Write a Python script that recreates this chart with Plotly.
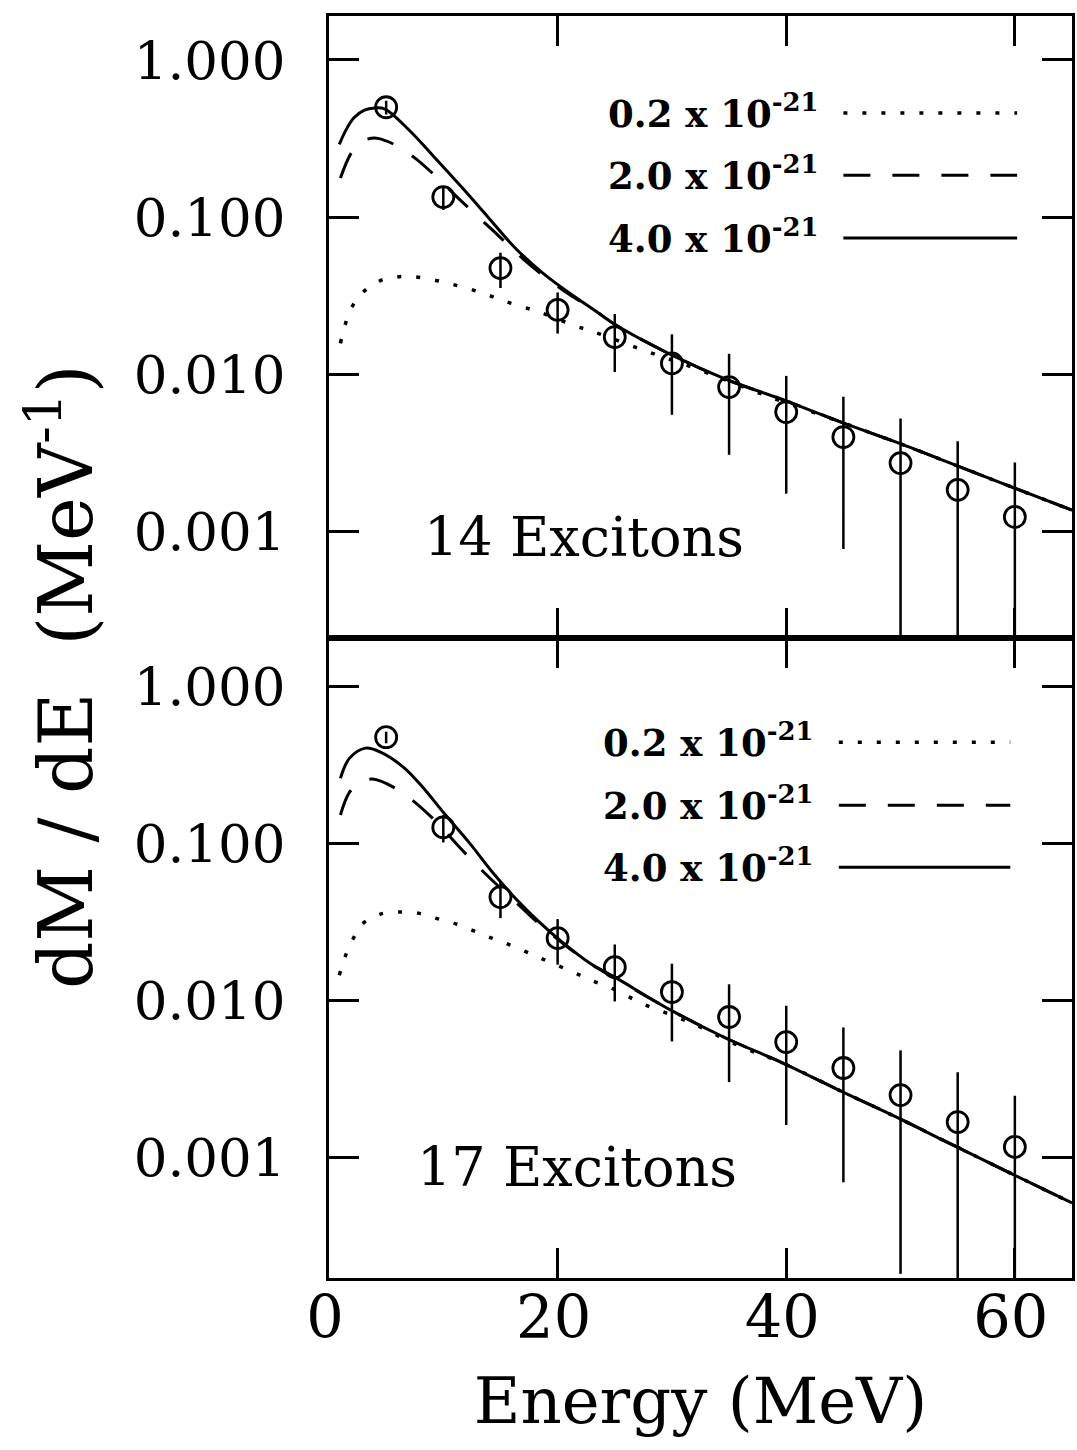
import plotly.graph_objects as go
from plotly.subplots import make_subplots

# ---- measured spectra (points every 5 MeV) ----
energy_pts = [5, 10, 15, 20, 25, 30, 35, 40, 45, 50, 55, 60]

data14 = [0.50, 0.134, 0.0473, 0.0256, 0.0172, 0.0117, 0.00826, 0.00573,
          0.00397, 0.00271, 0.00183, 0.00123]
err14 = [0.05, 0.023, 0.012, 0.0075, 0.0069, 0.0062, 0.0052, 0.0040,
         0.0032, 0.0025, 0.0019, 0.0015]

data17 = [0.473, 0.126, 0.0453, 0.0248, 0.0162, 0.01125, 0.0078, 0.0054,
          0.00369, 0.00248, 0.00167, 0.00116]
err17 = [0.04, 0.025, 0.012, 0.008, 0.0064, 0.0058, 0.0048, 0.0038,
         0.0030, 0.0023, 0.0018, 0.0013]

# ---- model curves, 14 excitons ----
e14_solid = [0.9, 1.5, 2.2, 3.1, 4.0, 4.9, 7.0, 9.2, 11.6, 13.9, 16.2, 18.6,
             20.9, 23.2, 25.1, 30.0, 34.9, 39.8, 44.8, 49.8, 54.8, 59.7, 65.0]
m14_solid = [0.29, 0.36, 0.43, 0.48, 0.495, 0.487, 0.358, 0.241, 0.155, 0.100,
             0.0644, 0.0446, 0.0333, 0.0256, 0.0205, 0.0132, 0.00916, 0.00683,
             0.00494, 0.00364, 0.00263, 0.00191, 0.00136]

e14_dash = [1.0, 2.0, 3.0, 4.0, 5.0, 6.0, 7.5, 9.4, 11.3, 13.0, 15.0, 17.0,
            19.0, 21.0, 23.0, 25.1, 30.0, 34.9, 39.8, 44.8, 49.8, 54.8, 59.7, 65.0]
m14_dash = [0.177, 0.259, 0.305, 0.318, 0.305, 0.282, 0.238, 0.180, 0.132,
            0.101, 0.074, 0.054, 0.041, 0.0322, 0.0262, 0.0205, 0.0132, 0.00916,
            0.00683, 0.00494, 0.00364, 0.00263, 0.00191, 0.00136]

e14_dot = [1.0, 1.4, 2.0, 3.0, 4.4, 5.9, 7.5, 9.2, 10.7, 12.3, 13.9, 15.3,
           17.0, 18.6, 21.6, 23.2, 27.5, 32.0, 38.1, 44.8, 49.8, 54.8, 59.7, 65.0]
m14_dot = [0.0157, 0.0205, 0.0267, 0.0333, 0.0391, 0.0415, 0.0415, 0.0397,
           0.0374, 0.0348, 0.0319, 0.0292, 0.0267, 0.0245, 0.0202, 0.0185,
           0.0142, 0.0109, 0.00735, 0.00494, 0.00364, 0.00263, 0.00191, 0.00136]

# ---- model curves, 17 excitons ----
e17_solid = [1.0, 1.8, 3.2, 4.5, 6.5, 8.2, 10.2, 12.3, 14.3, 16.3, 18.4, 20.4,
             22.8, 25.0, 29.9, 34.7, 39.7, 44.6, 49.6, 54.7, 59.6, 65.0]
m17_solid = [0.259, 0.348, 0.403, 0.380, 0.305, 0.227, 0.151, 0.100, 0.0653,
             0.0446, 0.0314, 0.0234, 0.0172, 0.0140, 0.00863, 0.00573, 0.00397,
             0.00267, 0.00180, 0.00118, 0.00079, 0.00051]

e17_dash = [1.0, 1.8, 2.8, 3.8, 5.8, 7.6, 9.5, 11.4, 13.2, 14.9, 16.9, 18.7,
            21.0, 23.0, 25.0, 29.9, 34.7, 39.7, 44.6, 49.6, 54.7, 59.6, 65.0]
m17_dash = [0.151, 0.211, 0.245, 0.256, 0.224, 0.180, 0.134, 0.0944, 0.069,
            0.0525, 0.0385, 0.0292, 0.0214, 0.0168, 0.0138, 0.00863, 0.00573,
            0.00397, 0.00267, 0.00180, 0.00118, 0.00079, 0.00051]

e17_dot = [0.9, 1.4, 2.1, 3.0, 4.5, 6.2, 7.8, 9.3, 10.9, 12.5, 14.0, 15.4,
           17.1, 18.5, 21.5, 22.9, 24.5, 25.9, 27.3, 31.7, 36.1, 39.7, 44.6,
           49.6, 54.7, 59.6, 65.0]
m17_dot = [0.0144, 0.0188, 0.0245, 0.0309, 0.0353, 0.0364, 0.0358, 0.0333,
           0.0309, 0.0279, 0.0252, 0.0231, 0.0205, 0.0185, 0.0149, 0.0134,
           0.0121, 0.0108, 0.00957, 0.00714, 0.00502, 0.00397, 0.00267,
           0.00180, 0.00118, 0.00079, 0.00051]

legend_labels = ["0.2 x 10<sup>-21</sup>", "2.0 x 10<sup>-21</sup>",
                 "4.0 x 10<sup>-21</sup>"]
panel_labels = ["14 Excitons", "17 Excitons"]

y_tickvals = [0.001, 0.01, 0.1, 1.0]
y_ticktext = ["0.001", "0.010", "0.100", "1.000"]
x_tickvals = [0, 20, 40, 60]
x_ticktext = ["0", "20", "40", "60"]

BLACK = "black"
DOT = "4px,15px"
DASH = "27px,22px"

fig = make_subplots(rows=2, cols=1, shared_xaxes=True, vertical_spacing=0,
                    row_heights=[0.493, 0.507])

panels = [
    (1, e14_dot, m14_dot, e14_dash, m14_dash, e14_solid, m14_solid, data14, err14),
    (2, e17_dot, m17_dot, e17_dash, m17_dash, e17_solid, m17_solid, data17, err17),
]

for row, ed, md, eh, mh, es, ms, dat, err in panels:
    fig.add_trace(go.Scatter(x=ed, y=md, mode="lines", line_shape="spline",
                             line=dict(color=BLACK, width=3.5, dash=DOT),
                             showlegend=False, hoverinfo="skip"), row=row, col=1)
    fig.add_trace(go.Scatter(x=eh, y=mh, mode="lines", line_shape="spline",
                             line=dict(color=BLACK, width=3, dash=DASH),
                             showlegend=False, hoverinfo="skip"), row=row, col=1)
    fig.add_trace(go.Scatter(x=es, y=ms, mode="lines", line_shape="spline",
                             line=dict(color=BLACK, width=3),
                             showlegend=False, hoverinfo="skip"), row=row, col=1)
    fig.add_trace(go.Scatter(
        x=energy_pts, y=dat, mode="markers",
        marker=dict(symbol="circle-open", size=21, color=BLACK,
                    line=dict(width=2.8, color=BLACK)),
        error_y=dict(type="data", array=err, visible=True, color=BLACK,
                     thickness=2.5, width=0),
        showlegend=False), row=row, col=1)

axis_common = dict(showline=True, linewidth=3, linecolor=BLACK, mirror="ticks",
                   ticks="inside", ticklen=30, tickwidth=3, tickcolor=BLACK,
                   showgrid=False, zeroline=False)

fig.update_xaxes(range=[0, 65], tickvals=x_tickvals, ticktext=x_ticktext,
                 **axis_common)
fig.update_xaxes(showticklabels=False, row=1, col=1)
fig.update_xaxes(showticklabels=True, row=2, col=1,
                 tickfont=dict(family="DejaVu Serif", size=59, color=BLACK),
                 ticklabelstandoff=-14, ticklabelshift=-4,
                 title=dict(text="Energy (MeV)", standoff=28,
                            font=dict(family="DejaVu Serif", size=64, color=BLACK)))

fig.update_yaxes(type="log", tickvals=y_tickvals, ticktext=y_ticktext,
                 tickfont=dict(family="DejaVu Serif", size=53, color=BLACK),
                 ticklabelstandoff=30, **axis_common)
fig.update_yaxes(range=[-3.682, 0.280], row=1, col=1)
fig.update_yaxes(range=[-3.771, 0.306], row=2, col=1)

annotations = []
shapes = []

# panel captions
for yref, xc, yc, text in [("y domain", 22.3, 0.162, panel_labels[0]),
                           ("y2 domain", 21.7, 0.172, panel_labels[1])]:
    xref = "x" if yref == "y domain" else "x2"
    annotations.append(dict(x=xc, y=yc, xref=xref, yref=yref, text=text,
                            showarrow=False, xanchor="center", yanchor="middle",
                            font=dict(family="DejaVu Serif", size=54, color=BLACK)))

# in-panel key: label text followed by a line sample
key_rows = [
    ("x", "y domain", 42.95, 45.0, 60.2, [0.844, 0.744, 0.643]),
    ("x2", "y2 domain", 42.5, 44.6, 59.6, [0.8375, 0.739, 0.642]),
]
styles = [("dot", DOT, 3.5), ("dash", DASH, 3), ("solid", "solid", 3)]
for xref, yref, xtext, x0, x1, ys in key_rows:
    for (name, dash, w), label, yy in zip(styles, legend_labels, ys):
        annotations.append(dict(x=xtext, y=yy, xref=xref, yref=yref, text=label,
                                showarrow=False, xanchor="right", yanchor="middle",
                                yshift=2,
                                font=dict(family="DejaVu Serif", size=37,
                                          color=BLACK, weight="bold")))
        shapes.append(dict(type="line", xref=xref, yref=yref, x0=x0, x1=x1,
                           y0=yy, y1=yy, line=dict(color=BLACK, width=w, dash=dash)))

# shared y-axis title, placed by pixel position within the figure
plot_w = 1077 - 329 - 2
plot_h = 1450 - 16 - 172
annotations.append(dict(x=(60 - 329) / plot_w, y=1 - (677 - 16) / plot_h,
                        xref="paper", yref="paper",
                        text="dM / dE  (MeV<sup>-1</sup>)", textangle=-90,
                        showarrow=False, xanchor="center", yanchor="middle",
                        font=dict(family="DejaVu Serif", size=74, color=BLACK)))

fig.update_layout(width=1077, height=1450,
                  margin=dict(l=329, r=2, t=16, b=172),
                  paper_bgcolor="white", plot_bgcolor="white",
                  font=dict(family="DejaVu Serif", color=BLACK),
                  annotations=annotations, shapes=shapes, showlegend=False)

fig.write_html("out.html")
